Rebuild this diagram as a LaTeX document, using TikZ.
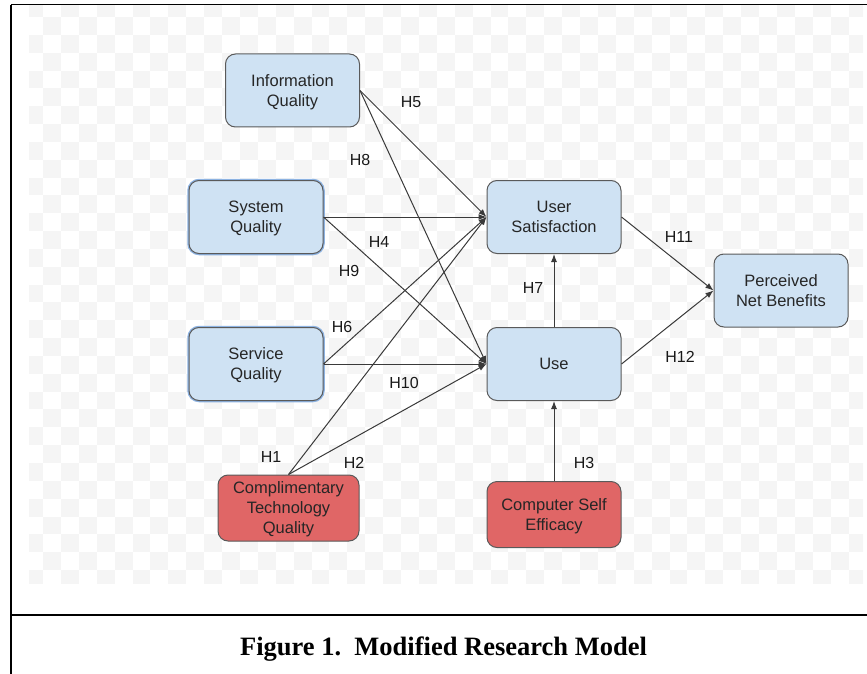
\documentclass[tikz,border=0pt]{standalone}
\usepackage{fontspec}
\setmainfont{Liberation Sans}
\newfontfamily\capfont{Liberation Serif}
\usepackage{xcolor}
\usepackage{tikz}
\usetikzlibrary{arrows.meta}

\definecolor{boxblue}{HTML}{CFE2F3}
\definecolor{boxred}{HTML}{E06666}
\definecolor{boxline}{HTML}{5A5A5A}
\definecolor{glowblue}{HTML}{8DB3E2}
\definecolor{checker}{HTML}{F5F5F5}
\definecolor{linkgray}{HTML}{3A3A3A}

\begin{document}
\begin{tikzpicture}[x=1pt, y=-1pt, node distance=147pt,
  box/.style={rectangle, rounded corners=10pt, minimum width=134pt, minimum height=73pt, text centered, align=center, text depth=0pt, draw=boxline, line width=1pt, fill=boxblue, text=black!85, font=\fontsize{16.5}{20}\selectfont},
  redbox/.style={box, fill=boxred, minimum height=66pt},
  glow/.style={preaction={draw=glowblue, line width=3.5pt}},
  hlabel/.style={text=black!90, font=\fontsize{16}{19}\selectfont},
  link/.style={->, draw=linkgray, line width=1pt},
  >={Latex[length=8pt,width=6pt]}]

\useasboundingbox (0,0) rectangle (867,674);

% checkered background
\begin{scope}
\clip (29,6) rectangle (863,583);
\foreach \i in {0,...,47}{
  \foreach \j in {0,...,33}{
    \pgfmathtruncatemacro\parity{mod(\i+\j,2)}
    \ifnum\parity=0
      \fill[checker] (25.1+17.9*\i,-0.84+17.84*\j) rectangle ++(17.9,17.84);
    \fi
  }
}
\end{scope}

% frame
\draw[line width=1pt] (11,5) -- (867,5);
\draw[line width=2pt] (11,5) -- (11,674);
\draw[line width=2pt] (11,615) -- (867,615);

\node (infoq) [box] at (292.5,90.5) {Information\\Quality};

\node (sysq) [box, glow] at (256,217) {System\\Quality};

\node (servq) [box, glow, below of=sysq] {Service\\Quality};

\node (ctq) [redbox, minimum width=141pt] at (288.5,508) {Complimentary\\Technology\\Quality};

\node (usersat) [box, right of=sysq, node distance=298pt] {User\\Satisfaction};

\node (use) [box, below of=usersat] {Use};

\node (cse) [redbox, below of=use, node distance=150.5pt] {Computer Self\\Efficacy};

\node (pnb) [box] at (781,290.5) {Perceived\\Net Benefits};

\draw[link] (infoq.east) -- (usersat.west);
\draw[link] (infoq.east) -- (use.west);
\draw[link] (sysq.east) -- (usersat.west);
\draw[link] (sysq.east) -- (use.west);
\draw[link] (servq.east) -- (usersat.west);
\draw[link] (servq.east) -- (use.west);
\draw[link] (ctq.north) -- (usersat.west);
\draw[link] (ctq.north) -- (use.west);
\draw[link] (cse.north) -- (use.south);
\draw[link] (use.north) -- (usersat.south);
\draw[link] (usersat.east) -- (pnb.west);
\draw[link] (use.east) -- (pnb.west);

\node (h5) [hlabel] at (411,102) {H5};
\node (h8) [hlabel] at (360,160) {H8};
\node (h4) [hlabel] at (379,242) {H4};
\node (h9) [hlabel] at (349,271) {H9};
\node (h6) [hlabel] at (342,327) {H6};
\node (h10) [hlabel] at (404,383) {H10};
\node (h1) [hlabel] at (271,457) {H1};
\node (h2) [hlabel] at (354,463) {H2};
\node (h3) [hlabel] at (584,463) {H3};
\node (h7) [hlabel] at (533,288) {H7};
\node (h11) [hlabel] at (679,237) {H11};
\node (h12) [hlabel] at (680,357) {H12};

\node (caption) [anchor=base, font=\capfont\bfseries\fontsize{26.5}{30}\selectfont] at (443.5,655) {Figure 1.\ \ Modified Research Model};

\end{tikzpicture}
\end{document}
